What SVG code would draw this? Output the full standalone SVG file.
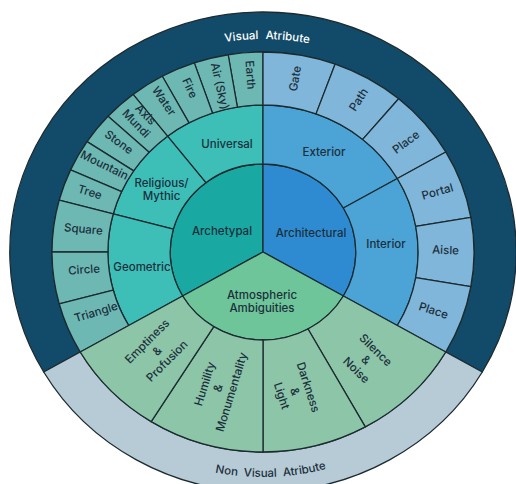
<svg xmlns="http://www.w3.org/2000/svg" width="516" height="484" viewBox="0 0 516 484">
<style>
.s{stroke:#1c2b30;stroke-width:1.3;stroke-linejoin:round}
.t{font-family:Inter,"Liberation Sans",Arial,sans-serif;font-size:11.5px;font-weight:500;fill:#1c2f3c;text-anchor:middle}
.w{fill:#ffffff}
.dk{fill:#124b69}.lt{fill:#b6cbd5}
.c1a{fill:#1aa8a2}.c2a{fill:#3dbfb8}.c3a{fill:#6db8b3}
.c1b{fill:#2f8bd1}.c2b{fill:#4ba3d6}.c3b{fill:#80b6d9}
.c1c{fill:#6ec59a}.c2c{fill:#8cc5a8}
</style>
<defs>
<path id="arcTop" d="M 38.3,252 A 224.7 213 0 0 1 487.7,252"/>
<path id="arcBot" d="M 25.6,252 A 237.4 225 0 0 0 500.4,252"/>
</defs>
<rect width="516" height="484" fill="#ffffff"/>
<g id="visual-atribute">
<path class="s dk" d="M 43.72,372 A 253.2 240 0 1 1 482.28,372 L 445.73,352 A 211 200 0 1 0 80.27,352 Z"/>
<text class="t w" font-size="12" word-spacing="4"><textPath href="#arcTop" startOffset="50.6%">Visual Atribute</textPath></text>
</g>
<g id="non-visual-atribute">
<path class="s lt" d="M 482.28,372 A 253.2 240 0 0 1 43.72,372 L 80.27,352 A 211 200 0 0 0 445.73,352 Z"/>
<text class="t" font-size="12" word-spacing="3"><textPath href="#arcBot" startOffset="51.1%">Non Visual Atribute</textPath></text>
</g>
<g id="archetypal">
<path class="s c1a" d="M 263,252 L 182.60,296 A 92.84 88 0 0 1 263,164 Z"/>
<text class="t" x="222" y="231" dy="0.35em">Archetypal</text>
</g>
<g id="architectural">
<path class="s c1b" d="M 263,252 L 263,164 A 92.84 88 0 0 1 343.40,296 Z"/>
<text class="t" x="311" y="233" dy="0.35em">Architectural</text>
</g>
<g id="atmospheric">
<path class="s c1c" d="M 263,252 L 343.40,296 A 92.84 88 0 0 1 182.60,296 Z"/>
<text class="t"><tspan x="262" y="294.5" dy="0.35em">Atmospheric</tspan><tspan x="262" y="307.5" dy="0.35em">Ambiguities</tspan></text>
</g>
<g id="universal">
<path class="s c2a" d="M 167.52,136.16 A 155.09 147 0 0 1 263,105 L 263,164 A 92.84 88 0 0 0 205.84,182.66 Z"/>
<text class="t" x="227" y="144" dy="0.35em">Universal</text>
</g>
<g id="religious">
<path class="s c2a" d="M 113.20,213.95 A 155.09 147 0 0 1 167.52,136.16 L 205.84,182.66 A 92.84 88 0 0 0 173.32,229.22 Z"/>
<text class="t"><tspan x="161.5" y="182.5" dy="0.35em">Religious/</tspan><tspan x="161.5" y="195.5" dy="0.35em">Mythic</tspan></text>
</g>
<g id="geometric">
<path class="s c2a" d="M 128.69,325.5 A 155.09 147 0 0 1 113.20,213.95 L 173.32,229.22 A 92.84 88 0 0 0 182.60,296 Z"/>
<text class="t" x="142" y="266.5" dy="0.35em">Geometric</text>
</g>
<g id="exterior">
<path class="s c2b" d="M 263,105 A 155.09 147 0 0 1 397.31,178.5 L 343.40,208 A 92.84 88 0 0 0 263,164 Z"/>
<text class="t" x="324" y="151.5" dy="0.35em">Exterior</text>
</g>
<g id="interior">
<path class="s c2b" d="M 397.31,178.5 A 155.09 147 0 0 1 397.31,325.5 L 343.40,296 A 92.84 88 0 0 0 343.40,208 Z"/>
<text class="t" x="386" y="244" dy="0.35em">Interior</text>
</g>
<g id="earth">
<path class="s c3a" d="M 228.17,54.74 A 211 200 0 0 1 263,52 L 263,105 A 155.09 147 0 0 0 237.40,107.02 Z"/>
<text class="t" transform="translate(250.5,75) rotate(86)" dy="0.35em">Earth</text>
</g>
<g id="air">
<path class="s c3a" d="M 194.30,62.90 A 211 200 0 0 1 228.17,54.74 L 237.40,107.02 A 155.09 147 0 0 0 212.51,113.01 Z"/>
<text class="t" transform="translate(220,86) rotate(77)" dy="0.35em">Air (Sky)</text>
</g>
<g id="fire">
<path class="s c3a" d="M 162.32,76.24 A 211 200 0 0 1 194.30,62.90 L 212.51,113.01 A 155.09 147 0 0 0 189.00,122.81 Z"/>
<text class="t" transform="translate(190,88) rotate(65)" dy="0.35em">Fire</text>
</g>
<g id="water">
<path class="s c3a" d="M 133.10,94.40 A 211 200 0 0 1 162.32,76.24 L 189.00,122.81 A 155.09 147 0 0 0 167.52,136.16 Z"/>
<text class="t" transform="translate(164,101) rotate(55)" dy="0.35em">Water</text>
</g>
<g id="axis-mundi">
<path class="s c3a" d="M 108.06,116.24 A 211 200 0 0 1 133.10,94.40 L 167.52,136.16 A 155.09 147 0 0 0 149.12,152.22 Z"/>
<text class="t" transform="translate(141,119) rotate(46)"><tspan x="0" y="-6.5" dy="0.35em">Axis</tspan><tspan x="0" y="6.5" dy="0.35em">Mundi</tspan></text>
</g>
<g id="stone">
<path class="s c3a" d="M 87.05,141.61 A 211 200 0 0 1 108.06,116.24 L 149.12,152.22 A 155.09 147 0 0 0 133.68,170.86 Z"/>
<text class="t" transform="translate(119,142) rotate(36)" dy="0.35em">Stone</text>
</g>
<g id="mountain">
<path class="s c3a" d="M 70.62,169.86 A 211 200 0 0 1 87.05,141.61 L 133.68,170.86 A 155.09 147 0 0 0 121.60,191.62 Z"/>
<text class="t" transform="translate(104.5,165) rotate(26)" dy="0.35em">Mountain</text>
</g>
<g id="tree">
<path class="s c3a" d="M 59.19,200.24 A 211 200 0 0 1 70.62,169.86 L 121.60,191.62 A 155.09 147 0 0 0 113.20,213.95 Z"/>
<text class="t" transform="translate(90,192) rotate(17)" dy="0.35em">Tree</text>
</g>
<g id="square">
<path class="s c3a" d="M 52,252 A 211 200 0 0 1 59.19,200.24 L 113.20,213.95 A 155.09 147 0 0 0 107.92,252 Z"/>
<text class="t" transform="translate(83.5,229) rotate(5)" dy="0.35em">Square</text>
</g>
<g id="circle">
<path class="s c3a" d="M 59.19,303.76 A 211 200 0 0 1 52,252 L 107.92,252 A 155.09 147 0 0 0 113.20,290.05 Z"/>
<text class="t" transform="translate(84,269.5) rotate(-4)" dy="0.35em">Circle</text>
</g>
<g id="triangle">
<path class="s c3a" d="M 80.27,352 A 211 200 0 0 1 59.19,303.76 L 113.20,290.05 A 155.09 147 0 0 0 128.69,325.5 Z"/>
<text class="t" transform="translate(96,312) rotate(-17)" dy="0.35em">Triangle</text>
</g>
<g id="gate">
<path class="s c3b" d="M 263,52 A 211 200 0 0 1 335.17,64.06 L 316.04,113.87 A 155.09 147 0 0 0 263,105 Z"/>
<text class="t" transform="translate(295,78.5) rotate(-80)" dy="0.35em">Gate</text>
</g>
<g id="path">
<path class="s c3b" d="M 335.17,64.06 A 211 200 0 0 1 398.63,98.79 L 362.69,139.39 A 155.09 147 0 0 0 316.04,113.87 Z"/>
<text class="t" transform="translate(358.5,99.5) rotate(-57)" dy="0.35em">Path</text>
</g>
<g id="place-exterior">
<path class="s c3b" d="M 398.63,98.79 A 211 200 0 0 1 445.73,152 L 397.31,178.5 A 155.09 147 0 0 0 362.69,139.39 Z"/>
<text class="t" transform="translate(406,142) rotate(-37)" dy="0.35em">Place</text>
</g>
<g id="portal">
<path class="s c3b" d="M 445.73,152 A 211 200 0 0 1 470.80,217.27 L 415.73,226.47 A 155.09 147 0 0 0 397.31,178.5 Z"/>
<text class="t" transform="translate(437.5,191.5) rotate(-16)" dy="0.35em">Portal</text>
</g>
<g id="aisle">
<path class="s c3b" d="M 470.80,217.27 A 211 200 0 0 1 470.80,286.73 L 415.73,277.53 A 155.09 147 0 0 0 415.73,226.47 Z"/>
<text class="t" transform="translate(445.5,250) rotate(2)" dy="0.35em">Aisle</text>
</g>
<g id="place-interior">
<path class="s c3b" d="M 470.80,286.73 A 211 200 0 0 1 445.73,352 L 397.31,325.5 A 155.09 147 0 0 0 415.73,277.53 Z"/>
<text class="t" transform="translate(433.5,310.5) rotate(18)" dy="0.35em">Place</text>
</g>
<g id="silence-noise">
<path class="s c2c" d="M 445.73,352 A 211 200 0 0 1 365.29,426.92 L 308.01,328.97 A 92.84 88 0 0 0 343.40,296 Z"/>
<text class="t" transform="translate(366,360) rotate(44)"><tspan x="0" y="-14" dy="0.35em">Silence</tspan><tspan x="0" y="0" dy="0.35em">&amp;</tspan><tspan x="0" y="14" dy="0.35em">Noise</tspan></text>
</g>
<g id="darkness-light">
<path class="s c2c" d="M 365.29,426.92 A 211 200 0 0 1 263,452 L 263,340 A 92.84 88 0 0 0 308.01,328.97 Z"/>
<text class="t" transform="translate(295,391.5) rotate(72)"><tspan x="0" y="-14" dy="0.35em">Darkness</tspan><tspan x="0" y="0" dy="0.35em">&amp;</tspan><tspan x="0" y="14" dy="0.35em">Light</tspan></text>
</g>
<g id="humility-monumentality">
<path class="s c2c" d="M 263,452 A 211 200 0 0 1 151.19,421.61 L 213.80,326.63 A 92.84 88 0 0 0 263,340 Z"/>
<text class="t" transform="translate(218,388) rotate(-73)"><tspan x="0" y="-14" dy="0.35em">Humility</tspan><tspan x="0" y="0" dy="0.35em">&amp;</tspan><tspan x="0" y="14" dy="0.35em">Monumentality</tspan></text>
</g>
<g id="emptiness-profusion">
<path class="s c2c" d="M 151.19,421.61 A 211 200 0 0 1 80.27,352 L 182.60,296 A 92.84 88 0 0 0 213.80,326.63 Z"/>
<text class="t" transform="translate(157,351) rotate(-45)"><tspan x="0" y="-14" dy="0.35em">Emptiness</tspan><tspan x="0" y="0" dy="0.35em">&amp;</tspan><tspan x="0" y="14" dy="0.35em">Profusion</tspan></text>
</g>
</svg>
